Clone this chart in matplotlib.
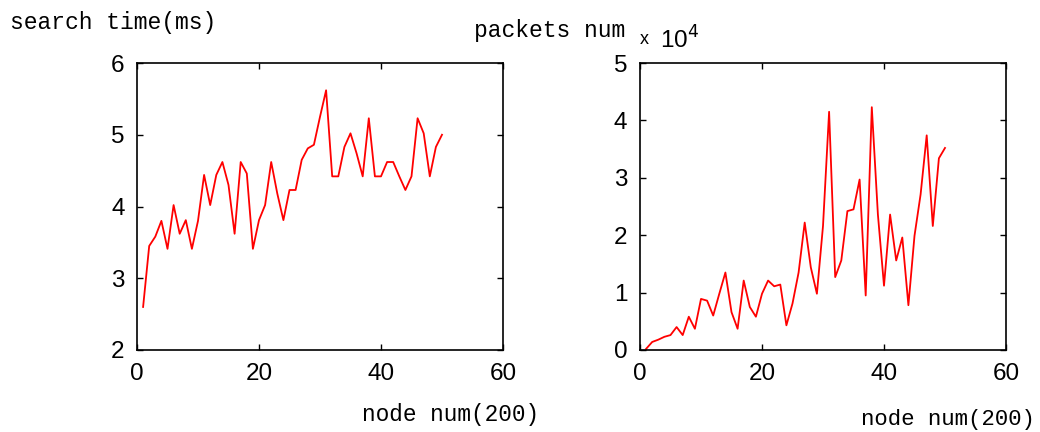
import matplotlib
matplotlib.use("Agg")
import matplotlib.pyplot as plt

node_num = list(range(1, 51))
search_time = [2.60, 3.45, 3.58, 3.80, 3.41, 4.02, 3.62, 3.81, 3.41, 3.80,
               4.44, 4.02, 4.44, 4.62, 4.30, 3.62, 4.62, 4.46, 3.41, 3.81,
               4.02, 4.62, 4.18, 3.81, 4.23, 4.23, 4.65, 4.81, 4.86, 5.25,
               5.62, 4.42, 4.42, 4.83, 5.02, 4.74, 4.42, 5.23, 4.42, 4.42,
               4.62, 4.62, 4.42, 4.23, 4.42, 5.23, 5.02, 4.42, 4.83, 5.00]
packets_num = [0.02, 0.14, 0.18, 0.23, 0.26, 0.40, 0.26, 0.58, 0.37, 0.89,
               0.86, 0.60, 0.98, 1.35, 0.66, 0.37, 1.21, 0.75, 0.58, 0.98,
               1.21, 1.11, 1.14, 0.43, 0.81, 1.35, 2.22, 1.44, 0.98, 2.16,
               4.15, 1.27, 1.56, 2.42, 2.45, 2.97, 0.95, 4.23, 2.36, 1.12,
               2.36, 1.56, 1.96, 0.78, 1.99, 2.71, 3.74, 2.16, 3.34, 3.52]

x_ticks = [0, 20, 40, 60]
left_yticks = [2, 3, 4, 5, 6]
right_yticks = [0, 1, 2, 3, 4, 5]

W, H = 1040, 432
fig = plt.figure(figsize=(W / 100, H / 100), dpi=100)
fig.patch.set_facecolor("white")

tick_family = "Liberation Sans"
tick_size = 17.5
tick_font = dict(family=tick_family, size=tick_size)
label_font = dict(family="Liberation Mono", size=16.6)


def make_axes(x0, x1):
    ax = fig.add_axes([x0 / W, 1 - 350 / H, (x1 - x0) / W, 287 / H])
    for s in ax.spines.values():
        s.set_linewidth(1.2)
        s.set_color("black")
    ax.tick_params(direction="in", length=4, width=1, top=True, right=True,
                   pad=9)
    return ax


ax1 = make_axes(137, 503)
ax1.plot(node_num, search_time, color="red", lw=1.3)
ax1.set_xlim(0, 60)
ax1.set_ylim(2, 6)
ax1.set_xticks(x_ticks)
ax1.set_yticks(left_yticks)
ax1.set_xticklabels([str(v) for v in x_ticks], **tick_font)
ax1.set_yticklabels([str(v) for v in left_yticks], **tick_font)

ax2 = make_axes(640, 1006)
ax2.plot(node_num, packets_num, color="red", lw=1.3)
ax2.set_xlim(0, 60)
ax2.set_ylim(0, 5)
ax2.set_xticks(x_ticks)
ax2.set_yticks(right_yticks)
ax2.set_xticklabels([str(v) for v in x_ticks], **tick_font)
ax2.set_yticklabels([str(v) for v in right_yticks], **tick_font)

fig.text(10 / W, 1 - 22 / H, "search time(ms)", ha="left", va="center",
         **label_font)
fig.text(474 / W, 1 - 30 / H, "packets num", ha="left", va="center",
         **label_font)
fig.text(640 / W, 1 - 40 / H, "x", ha="left", va="center",
         family=tick_family, size=13)
fig.text(660 / W, 1 - 40 / H, "10$^4$", ha="left", va="center",
         family=tick_family, size=tick_size)
fig.text(362 / W, 1 - 415 / H, "node num(200)", ha="left", va="center",
         family="Liberation Mono", size=16.4)
fig.text(861 / W, 1 - 420 / H, "node num(200)", ha="left", va="center",
         family="Liberation Mono", size=16.1)

fig.savefig("out.png", dpi=100, facecolor="white")
